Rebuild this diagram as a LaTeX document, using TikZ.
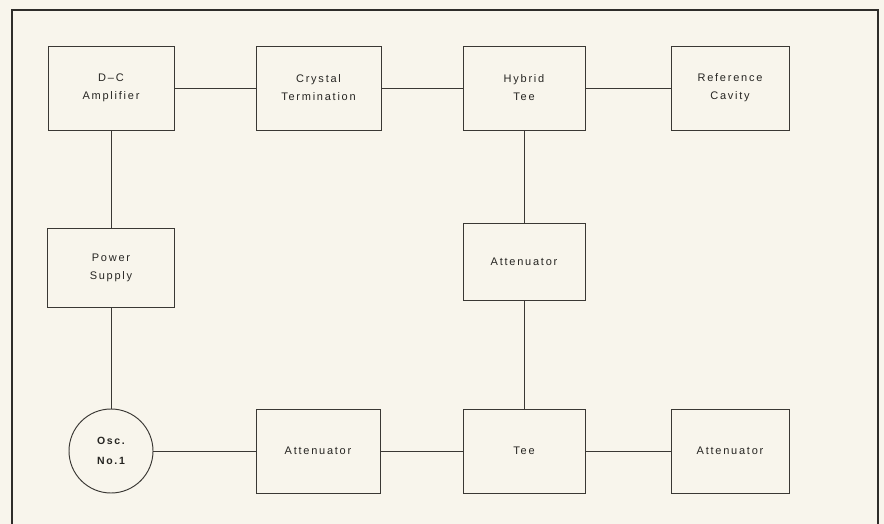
\documentclass[tikz,border=0pt]{standalone}
\usepackage{fontspec}
\newfontfamily\lbl[LetterSpace=16]{Liberation Sans}
\definecolor{paper}{HTML}{F8F5EC}
\definecolor{ink}{HTML}{3A3834}
\definecolor{txt}{HTML}{262522}
\tikzset{
  blk/.style={draw=ink, line width=0.95pt, rectangle, inner sep=0pt, align=center,
    font=\lbl\fontsize{11}{18}\selectfont, text=txt},
  osc/.style={draw=ink, line width=0.95pt, circle, inner sep=0pt, minimum size=84pt, align=center,
    font=\lbl\bfseries\fontsize{10.5}{20}\selectfont, text=txt},
  wire/.style={draw=ink, line width=0.9pt},
  frame/.style={draw=ink!80!black, line width=2pt}
}
\begin{document}
\begin{tikzpicture}[x=1pt,y=-1pt]
\useasboundingbox[fill=paper] (0,0) rectangle (884,524);
\draw[frame] (12,524) -- (12,10) -- (878,10) -- (878,524);

\node[blk, minimum width=126pt, minimum height=84pt] (dca) at (111,88) {D–C\\Amplifier};
\node[blk, minimum width=125pt, minimum height=84pt] (crys) at (318.5,88) {Crystal\\Termination};
\node[blk, minimum width=122pt, minimum height=84pt] (hyb) at (524,88) {Hybrid\\Tee};
\node[blk, minimum width=118pt, minimum height=84pt] (ref) at (730,88) {Reference\\Cavity};
\node[blk, minimum width=127pt, minimum height=79pt] (pow) at (111,267.5) {Power\\Supply};
\node[blk, minimum width=122pt, minimum height=77pt] (att1) at (524,261.5) {Attenuator};
\node[osc] (oscn) at (111,451) {Osc.\\No.1};
\node[blk, minimum width=124pt, minimum height=84pt] (att2) at (318,451) {Attenuator};
\node[blk, minimum width=122pt, minimum height=84pt] (tee) at (524,451) {Tee};
\node[blk, minimum width=118pt, minimum height=84pt] (att3) at (730,451) {Attenuator};

\draw[wire] (dca) -- (crys);
\draw[wire] (crys) -- (hyb);
\draw[wire] (hyb) -- (ref);
\draw[wire] (dca) -- (pow);
\draw[wire] (pow) -- (oscn);
\draw[wire] (hyb) -- (att1);
\draw[wire] (att1) -- (tee);
\draw[wire] (oscn) -- (att2);
\draw[wire] (att2) -- (tee);
\draw[wire] (tee) -- (att3);
\end{tikzpicture}
\end{document}
